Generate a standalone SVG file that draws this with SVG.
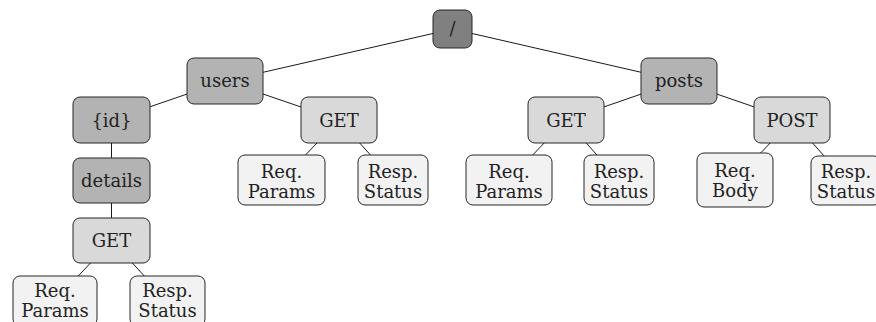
<svg xmlns="http://www.w3.org/2000/svg" width="876" height="322" viewBox="0 0 876 322">
  <style>
    .n rect { stroke: #262626; stroke-width: 1; }
    .root rect { fill: #808080; }
    .seg rect { fill: #b3b3b3; }
    .verb rect { fill: #d9d9d9; }
    .leaf rect { fill: #f2f2f2; }
    text { font-family: "DejaVu Serif", "Liberation Serif", serif; font-size: 18px; fill: #222222; text-anchor: middle; }
    #edges line { stroke: #1a1a1a; stroke-width: 1; }
  </style>
  <rect width="876" height="322" fill="#ffffff"/>

  <!-- edges, drawn centre to centre under the opaque nodes -->
  <g id="edges">
    <line x1="452.5" y1="29" x2="225" y2="81"/>
    <line x1="452.5" y1="29" x2="679" y2="81"/>
    <line x1="225" y1="81" x2="111.5" y2="120"/>
    <line x1="225" y1="81" x2="339" y2="120"/>
    <line x1="679" y1="81" x2="566" y2="120"/>
    <line x1="679" y1="81" x2="792" y2="120"/>
    <line x1="111.5" y1="120" x2="111.5" y2="180.5"/>
    <line x1="111.5" y1="180.5" x2="111.5" y2="240.5"/>
    <line x1="111.5" y1="240.5" x2="55" y2="301"/>
    <line x1="111.5" y1="240.5" x2="167.5" y2="301"/>
    <line x1="339" y1="120" x2="281.5" y2="180"/>
    <line x1="339" y1="120" x2="393" y2="180"/>
    <line x1="566" y1="120" x2="509" y2="180"/>
    <line x1="566" y1="120" x2="619" y2="180"/>
    <line x1="792" y1="120" x2="735" y2="180"/>
    <line x1="792" y1="120" x2="846" y2="180.5"/>
  </g>

  <g id="root" class="n root">
    <rect x="433" y="10" width="39" height="38" rx="7"/>
    <text x="452.5" y="35">/</text>
  </g>

  <g id="users" class="n seg">
    <rect x="187" y="58" width="76" height="46" rx="7"/>
    <text x="225" y="87">users</text>
  </g>
  <g id="posts" class="n seg">
    <rect x="641" y="58" width="76" height="46" rx="7"/>
    <text x="679" y="87">posts</text>
  </g>

  <g id="user-id" class="n seg">
    <rect x="73" y="97" width="77" height="46" rx="7"/>
    <text x="111.5" y="127">{id}</text>
  </g>
  <g id="users-get" class="n verb">
    <rect x="301" y="97" width="76" height="46" rx="7"/>
    <text x="339" y="127">GET</text>
  </g>
  <g id="posts-get" class="n verb">
    <rect x="528" y="97" width="76" height="46" rx="7"/>
    <text x="566" y="127">GET</text>
  </g>
  <g id="posts-post" class="n verb">
    <rect x="754" y="97" width="76" height="46" rx="7"/>
    <text x="792" y="127">POST</text>
  </g>

  <g id="details" class="n seg">
    <rect x="73" y="158" width="77" height="45" rx="7"/>
    <text x="111.5" y="187">details</text>
  </g>
  <g id="details-get" class="n verb">
    <rect x="73" y="218" width="77" height="45" rx="7"/>
    <text x="111.5" y="247">GET</text>
  </g>

  <g id="users-get-req" class="n leaf">
    <rect x="238" y="155" width="87" height="50" rx="7"/>
    <text x="281.5" y="178">Req.</text>
    <text x="281.5" y="198">Params</text>
  </g>
  <g id="users-get-resp" class="n leaf">
    <rect x="358" y="155" width="70" height="50" rx="7"/>
    <text x="393" y="178">Resp.</text>
    <text x="393" y="198">Status</text>
  </g>
  <g id="posts-get-req" class="n leaf">
    <rect x="466" y="155" width="86" height="50" rx="7"/>
    <text x="509" y="178">Req.</text>
    <text x="509" y="198">Params</text>
  </g>
  <g id="posts-get-resp" class="n leaf">
    <rect x="584" y="155" width="70" height="50" rx="7"/>
    <text x="619" y="178">Resp.</text>
    <text x="619" y="198">Status</text>
  </g>
  <g id="posts-post-req" class="n leaf">
    <rect x="697" y="153" width="76" height="54" rx="7"/>
    <text x="735" y="177">Req.</text>
    <text x="735" y="197">Body</text>
  </g>
  <g id="posts-post-resp" class="n leaf">
    <rect x="811" y="156" width="70" height="49" rx="7"/>
    <text x="846" y="178">Resp.</text>
    <text x="846" y="198">Status</text>
  </g>

  <g id="details-get-req" class="n leaf">
    <rect x="13" y="276" width="84" height="50" rx="7"/>
    <text x="55" y="297">Req.</text>
    <text x="55" y="317">Params</text>
  </g>
  <g id="details-get-resp" class="n leaf">
    <rect x="130" y="276" width="75" height="50" rx="7"/>
    <text x="167.5" y="297">Resp.</text>
    <text x="167.5" y="317">Status</text>
  </g>
</svg>
